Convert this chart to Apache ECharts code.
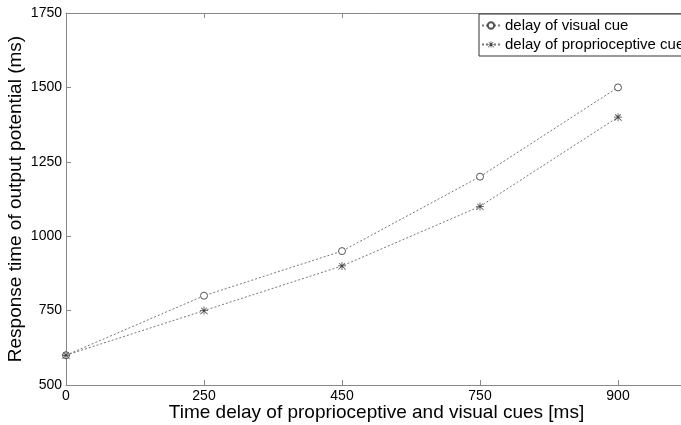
<!DOCTYPE html>
<html><head><meta charset="utf-8">
<script src="https://cdn.jsdelivr.net/npm/echarts@6/dist/echarts.min.js"></script>
<style>html,body{margin:0;padding:0;background:#fff}#c{width:681px;height:425px}</style>
</head><body><div id="c"></div>
<script>
const xLabels = ['0', '250', '450', '750', '900'];
const xPos = [0, 1, 2, 3, 4];
const visual = [600, 800, 950, 1200, 1500];
const proprio = [600, 750, 900, 1100, 1400];
const yTicks = [500, 750, 1000, 1250, 1500, 1750];

const font = 'Liberation Sans, Arial, sans-serif';
const star = 'path://M4.5,0h1v10h-1z M0,4.5h10v1h-10z M1.2,1.9l0.7,-0.7l7.9,7.9l-0.7,0.7z M8.1,1.2l0.7,0.7l-7.9,7.9l-0.7,-0.7z';
const chart = echarts.init(document.getElementById('c'), null, {renderer: 'canvas'});
chart.setOption({
  animation: false,
  backgroundColor: '#fff',
  textStyle: {fontFamily: font},
  grid: {left: 66, top: 13, width: 621, height: 372, containLabel: false, outerBoundsMode: 'none'},
  legend: {
    left: 479, top: 14, orient: 'vertical', itemGap: 4, itemWidth: 18, itemHeight: 8,
    padding: [4, 30, 4, 2],
    borderColor: '#333', borderWidth: 1, backgroundColor: '#fff',
    textStyle: {fontFamily: font, fontSize: 15, color: '#000'},
    data: ['delay of visual cue', 'delay of proprioceptive cue']
  },
  xAxis: [{
    type: 'value', min: 0, max: 4.5, interval: 1,
    name: 'Time delay of proprioceptive and visual cues [ms]',
    nameLocation: 'middle', nameGap: 18, nameMoveOverlap: false,
    nameTextStyle: {fontFamily: font, fontSize: 19, color: '#000', verticalAlign: 'top'},
    axisLine: {lineStyle: {color: '#888'}},
    axisTick: {inside: true, length: 5, lineStyle: {color: '#888'}},
    axisLabel: {fontFamily: font, fontSize: 14, color: '#000', margin: 4,
      formatter: v => (Number.isInteger(v) && xLabels[v] !== undefined) ? xLabels[v] : ''},
    splitLine: {show: false}
  }, {
    type: 'value', position: 'top', min: 0, max: 4.5, interval: 1,
    axisLine: {lineStyle: {color: '#888'}},
    axisTick: {inside: true, length: 5, lineStyle: {color: '#888'}},
    axisLabel: {show: false}, splitLine: {show: false}
  }],
  yAxis: {
    type: 'value', min: yTicks[0], max: yTicks[yTicks.length - 1], interval: 250,
    name: 'Response time of output potential (ms)',
    nameLocation: 'middle', nameGap: 41, nameMoveOverlap: false,
    nameTextStyle: {fontFamily: font, fontSize: 19, color: '#000'},
    axisLine: {show: true, lineStyle: {color: '#888'}},
    axisTick: {show: true, inside: true, length: 5, lineStyle: {color: '#888'}},
    axisLabel: {fontFamily: font, fontSize: 14, color: '#000', margin: 4, formatter: v => String(v)},
    splitLine: {show: false}
  },
  series: [{
    name: 'delay of visual cue', type: 'line',
    data: xPos.map((x, i) => [x, visual[i]]),
    symbol: 'circle', symbolSize: 7,
    itemStyle: {color: '#fff', borderColor: '#555', borderWidth: 1},
    lineStyle: {color: '#777', width: 1, type: [2, 2]}
  }, {
    name: 'delay of proprioceptive cue', type: 'line',
    data: xPos.map((x, i) => [x, proprio[i]]),
    symbol: star, symbolSize: 8,
    itemStyle: {color: '#444'},
    lineStyle: {color: '#777', width: 1, type: [2, 2]}
  }]
});
</script></body></html>
